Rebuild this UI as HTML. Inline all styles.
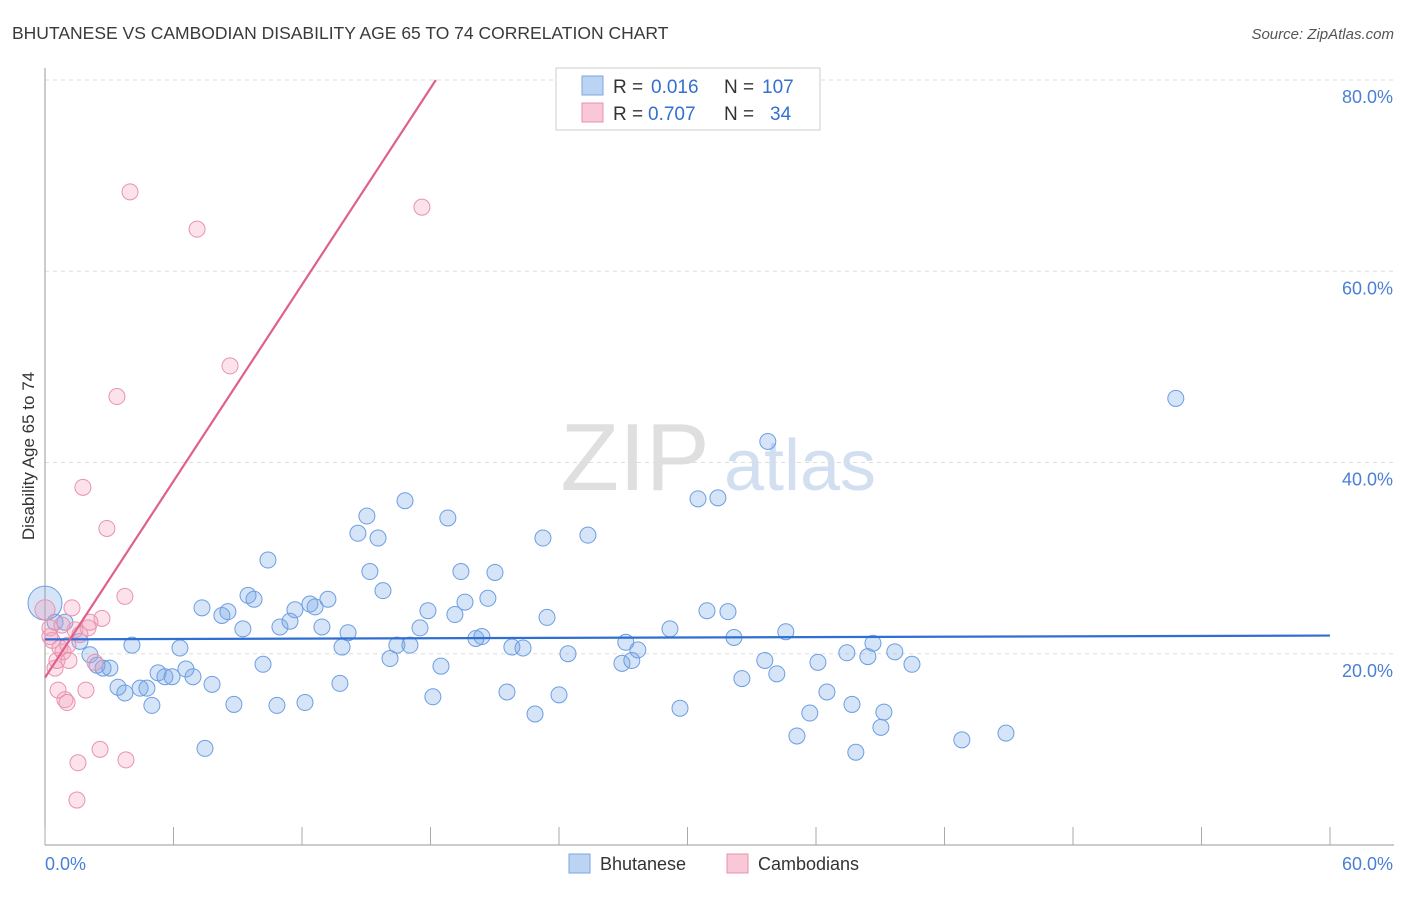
<!DOCTYPE html>
<html><head><meta charset="utf-8">
<style>
html,body{margin:0;padding:0;background:#fff;}
body{width:1406px;height:892px;overflow:hidden;font-family:"Liberation Sans",sans-serif;}
svg text{font-family:"Liberation Sans",sans-serif;}
</style></head>
<body>
<svg id="chart" width="1406" height="892" viewBox="0 0 1406 892" xmlns="http://www.w3.org/2000/svg">
<text x="12" y="39" font-size="17.5" fill="#3a3a3a">BHUTANESE VS CAMBODIAN DISABILITY AGE 65 TO 74 CORRELATION CHART</text>
<text x="1394" y="39" font-size="15" fill="#555" text-anchor="end" font-style="italic">Source: ZipAtlas.com</text>
<text transform="translate(34,456) rotate(-90)" font-size="17" fill="#333" text-anchor="middle">Disability Age 65 to 74</text>
<g>
<text x="635" y="490" font-size="96" fill="#d8d8d8" text-anchor="middle" font-family="Liberation Serif" opacity="0.8">ZIP</text>
<text x="800" y="490" font-size="72" fill="#c8d8ee" text-anchor="middle" opacity="0.8">atlas</text>
</g>
<g id="grid"></g>
<g id="axes"></g>
<g id="pts"></g>
<g id="lines"></g>
<g>
<rect x="556" y="68" width="264" height="62" fill="#fff" stroke="#ccc"/>
<rect x="582" y="76" width="21" height="19" fill="#bcd4f4" stroke="#7aa6e0"/>
<text x="613" y="93" font-size="19" fill="#333">R =</text>
<text x="651" y="93" font-size="19" fill="#3470d0">0.016</text>
<text x="724" y="93" font-size="19" fill="#333">N =</text>
<text x="762" y="93" font-size="19" fill="#3470d0">107</text>
<rect x="582" y="103" width="21" height="19" fill="#f8c8d6" stroke="#e892ae"/>
<text x="613" y="120" font-size="19" fill="#333">R =</text>
<text x="648" y="120" font-size="19" fill="#3470d0">0.707</text>
<text x="724" y="120" font-size="19" fill="#333">N =</text>
<text x="770" y="120" font-size="19" fill="#3470d0">34</text>
</g>
<g>
<rect x="569" y="854" width="21" height="19" fill="#bcd4f4" stroke="#7aa6e0"/>
<text x="600" y="870" font-size="18" fill="#333">Bhutanese</text>
<rect x="727" y="854" width="21" height="19" fill="#f8c8d6" stroke="#e892ae"/>
<text x="758" y="870" font-size="18" fill="#333">Cambodians</text>
</g>
</svg>
<script>
const blueX=[0,0.47,0.93,1.63,2.1,2.43,2.71,3.03,3.41,3.73,4.06,4.44,4.76,4.99,5.28,5.6,5.93,6.3,6.58,6.91,7.33,7.47,7.8,8.26,8.54,8.82,9.24,9.48,9.76,10.18,10.41,10.83,10.97,11.44,11.67,12.14,12.37,12.61,12.93,13.21,13.77,13.87,14.15,14.61,15.03,15.17,15.55,15.78,16.11,16.43,16.81,17.04,17.51,17.88,18.11,18.49,18.81,19.14,19.42,19.61,20.12,20.4,20.68,21.01,21.57,21.8,22.32,22.88,23.25,23.44,24.0,24.42,25.35,26.94,27.12,27.4,27.68,29.18,29.65,30.49,30.91,31.42,31.89,32.17,32.54,33.61,33.75,34.17,34.59,35.11,35.71,36.09,36.51,37.44,37.68,37.86,38.42,38.66,39.03,39.17,39.68,40.48,42.81,44.87,52.8];
const blueY=[25.3,23.3,23.3,21.3,19.9,18.8,18.5,18.5,16.5,15.9,20.9,16.4,16.4,14.6,18.0,17.6,17.6,20.6,18.4,17.6,24.8,10.1,16.8,24.0,24.4,14.7,22.6,26.1,25.7,18.9,29.8,14.6,22.8,23.4,24.6,14.9,25.2,24.9,22.8,25.7,16.9,20.7,22.2,32.6,34.4,28.6,32.1,26.6,19.5,20.9,36.0,20.9,22.7,24.5,15.5,18.7,34.2,24.1,28.6,25.4,21.6,21.8,25.8,28.5,16.0,20.7,20.6,13.7,32.1,23.8,15.7,20.0,32.4,19.0,21.2,19.3,20.4,22.6,14.3,36.2,24.5,36.3,24.4,21.7,17.4,19.3,42.2,17.9,22.3,11.4,13.8,19.1,16.0,20.1,14.7,9.7,19.7,21.1,12.3,13.9,20.2,18.9,11.0,11.7,46.7];
const pinkX=[0,0.23,0.33,0.47,0.56,0.7,0.84,0.93,1.03,1.12,1.26,1.4,1.54,1.49,1.77,1.91,2.01,2.33,2.57,2.66,2.89,3.36,3.73,3.78,3.97,7.1,8.64,17.6,0.23,0.61,0.79,1.63,2.1,1.07];
const pinkY=[24.6,22.7,21.4,18.5,19.3,20.6,20.2,15.2,14.9,19.3,24.8,22.5,8.6,4.7,37.4,16.2,22.7,19.1,10.0,23.7,33.1,46.9,26.0,8.9,68.3,64.4,50.1,66.7,21.8,16.2,23.0,22.0,23.3,20.9];
const yTicks=[20,40,60,80];
const xTickLabels=["0.0%","60.0%"];
const blueLine=[[0,21.5],[60,21.9]];
const pinkLine=[[0,17.5],[18.25,80]];

const NS="http://www.w3.org/2000/svg";
const X0=45,X1=1330,Y0=845,Y80=80;
const sx=v=>X0+(v/60)*(X1-X0);
const sy=v=>Y0-(v/80)*(Y0-Y80);
function mk(tag,attrs,parent){const e=document.createElementNS(NS,tag);for(const k in attrs)e.setAttribute(k,attrs[k]);parent.appendChild(e);return e;}
const grid=document.getElementById('grid'),axes=document.getElementById('axes'),pts=document.getElementById('pts'),lines=document.getElementById('lines');
yTicks.forEach(t=>{
  const l=mk('line',{x1:X0,x2:1394,y1:sy(t),y2:sy(t),stroke:'#ddd','stroke-dasharray':'4,4'},grid);
  
  
  const tx=mk('text',{x:1393,y:sy(t)+23,'font-size':18,fill:'#4a7fd6','text-anchor':'end'},grid);
  tx.textContent=t.toFixed(1)+'%';
  
  
});
const yax=mk('line',{x1:X0,x2:X0,y1:68,y2:Y0,stroke:'#999'},axes);


const xax=mk('line',{x1:X0,x2:1394,y1:Y0,y2:Y0,stroke:'#999'},axes);


for(let i=0;i<=10;i++){
  const t=mk('line',{x1:sx(i*6),x2:sx(i*6),y1:Y0,y2:Y0-18,stroke:'#aaa'},axes);
  
  
}
[[0,'start',45],[60,'end',1393]].forEach((d,i)=>{
  const tx=mk('text',{x:d[2],y:870,'font-size':18,fill:'#4a7fd6','text-anchor':d[1]},axes);
  tx.textContent=xTickLabels[i];
  
  
});
blueX.forEach((v,i)=>{
  const c=mk('circle',{cx:sx(v),cy:sy(blueY[i]),r:i===0?17:8,fill:'rgba(120,165,230,0.3)',stroke:'#6c9ee2','stroke-width':1},pts);
  
  
});
pinkX.forEach((v,i)=>{
  const c=mk('circle',{cx:sx(v),cy:sy(pinkY[i]),r:i===0?10:8,fill:'rgba(242,160,188,0.3)',stroke:'#ea92b0','stroke-width':1},pts);
  
  
});
const bl=mk('line',{x1:sx(blueLine[0][0]),y1:sy(blueLine[0][1]),x2:sx(blueLine[1][0]),y2:sy(blueLine[1][1]),stroke:'#2f6fd4','stroke-width':2.2},lines);


const pl=mk('line',{x1:sx(pinkLine[0][0]),y1:sy(pinkLine[0][1]),x2:sx(pinkLine[1][0]),y2:sy(pinkLine[1][1]),stroke:'#e0608a','stroke-width':2.2},lines);


</script>
</body></html>
